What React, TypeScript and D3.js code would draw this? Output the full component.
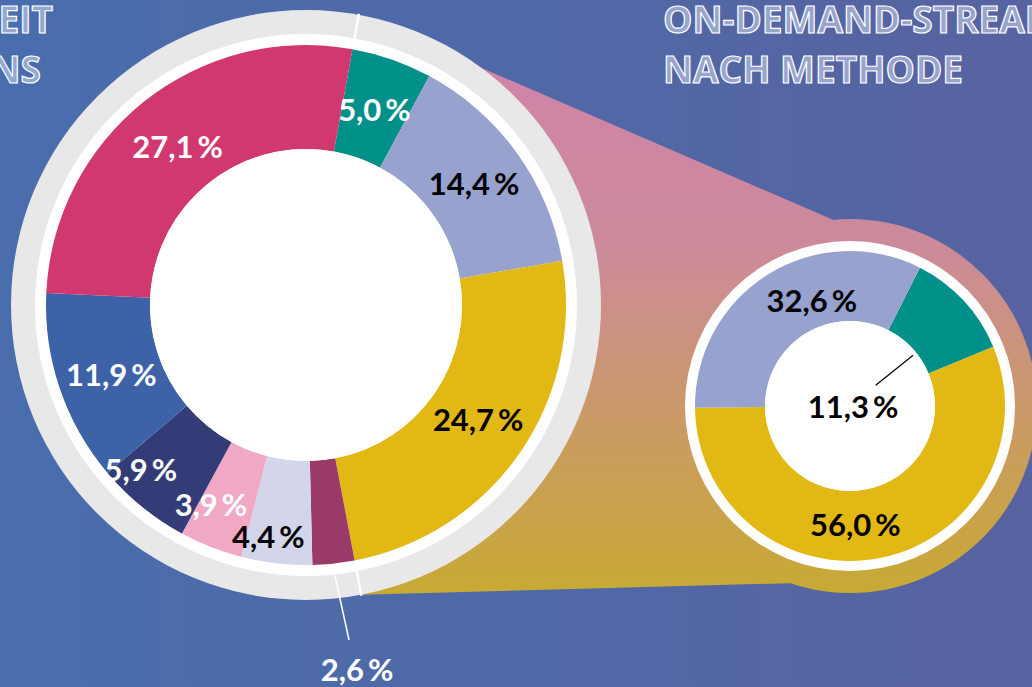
import React from 'react';
import * as d3 from 'd3';

const W = 1032;
const H = 687;

// Overall (big donut) shares, clockwise from the on-demand block
const bigValues = [5.0, 14.4, 24.7, 2.6, 4.4, 3.9, 5.9, 11.9, 27.1];
const bigColors = ['#00908a', '#97a2cf', '#e2b814', '#993a67', '#d3d5ea', '#f0a8c5', '#333c76', '#3d62a8', '#d1386f'];
const bigTextColors = ['#ffffff', '#000000', '#000000', '#ffffff', '#000000', '#ffffff', '#ffffff', '#ffffff', '#ffffff'];
// first N slices of the big donut that are broken down in the small donut
const onDemandCount = 3;

// On-demand streaming by method (small donut)
const smallValues = [11.3, 56.0, 32.6];
const smallColors = ['#00908a', '#e2b814', '#97a2cf'];
const smallTextColors = ['#000000', '#000000', '#000000'];

const titleLines = ['ON-DEMAND-STREAMING', 'NACH METHODE'];
const leftTitleLines = ['EIT', 'NS'];

const fmt = (v: number) => v.toFixed(1).replace('.', ',');
const deg = (d: number) => (d * Math.PI) / 180;

// layout
const big = { cx: 306, cy: 305, rGray: 295, rWhite: 271, rOuter: 260, rInner: 156, start: deg(10.3) };
const small = { cx: 850, cy: 406, rBg: 187, rWhite: 165, rOuter: 155, rInner: 85, start: deg(26.8) };

const polar = (cx: number, cy: number, r: number, a: number): [number, number] => [cx + r * Math.sin(a), cy - r * Math.cos(a)];

// label nudges (radius, angle in degrees) relative to the arc centroid
const bigLabelAdjust: Record<number, { r: number; da: number }> = {
  2: { r: 207, da: -1 },
  4: { r: 235, da: 2.7 },
  5: { r: 221, da: 4 },
  6: { r: 233, da: 6 },
  7: { r: 207, da: -1 },
  8: { r: 204, da: -0.5 },
};
const smallLabelAdjust: Record<number, { r: number; da: number }> = {
  1: { r: 119, da: 9 },
  2: { r: 112, da: 12 },
};

const LABEL_FONT = 'Lato, "Open Sans", sans-serif';

function Label({ x, y, text, color }: { x: number; y: number; text: string; color: string }) {
  return (
    <text x={x} y={y} textAnchor="middle" dy="0.36em" fill={color} fontFamily={LABEL_FONT} fontWeight={700} fontSize={31}>
      {text}
      <tspan dx={4}>%</tspan>
    </text>
  );
}

export default function App() {
  const bigPie = d3.pie<number>().sort(null).value((d) => d).startAngle(big.start).endAngle(big.start + 2 * Math.PI);
  const bigArcs = bigPie(bigValues);
  const bigArc = d3.arc<d3.PieArcDatum<number>>().innerRadius(big.rInner).outerRadius(big.rOuter);

  const smallPie = d3.pie<number>().sort(null).value((d) => d).startAngle(small.start).endAngle(small.start + 2 * Math.PI);
  const smallArcs = smallPie(smallValues);
  const smallArc = d3.arc<d3.PieArcDatum<number>>().innerRadius(small.rInner).outerRadius(small.rOuter);

  const odStart = bigArcs[0].startAngle;
  const odEnd = bigArcs[onDemandCount - 1].endAngle;

  const pBigTop = polar(big.cx, big.cy, big.rGray, odStart);
  const pBigBot = polar(big.cx, big.cy, big.rGray, odEnd);
  const pSmallTop = polar(small.cx, small.cy, small.rBg, deg(-5.2));
  const pSmallBot = polar(small.cx, small.cy, small.rBg, deg(198.7));
  const connector = [pBigTop, pSmallTop, [small.cx, small.cy], pSmallBot, pBigBot, [big.cx, big.cy]]
    .map((p) => p.join(','))
    .join(' ');

  const midR = 207;
  const bigLabelPos = bigArcs.map((a, i) => {
    const mid = (a.startAngle + a.endAngle) / 2;
    const adj = bigLabelAdjust[i];
    return adj ? polar(big.cx, big.cy, adj.r, mid + deg(adj.da)) : polar(big.cx, big.cy, midR, mid);
  });

  // small 2.6 slice label outside
  const smallSliceIdx = 3;
  const sMid = (bigArcs[smallSliceIdx].startAngle + bigArcs[smallSliceIdx].endAngle) / 2;
  const leaderStart = polar(big.cx, big.cy, big.rWhite + 1, sMid);
  const outsideLabel: [number, number] = [357, 670];

  const tealMid = (smallArcs[0].startAngle + smallArcs[0].endAngle) / 2 + deg(4);
  const sl1 = polar(small.cx, small.cy, small.rInner - 4, tealMid);
  const sl2 = polar(small.cx, small.cy, 33, tealMid);

  return (
    <svg width={W} height={H} viewBox={`0 0 ${W} ${H}`} style={{ position: 'fixed', left: 0, top: 0 }}>
      <defs>
        <linearGradient id="bg" x1="0" y1="0" x2={W} y2="0" gradientUnits="userSpaceOnUse">
          <stop offset="0" stopColor="#496dad" />
          <stop offset="1" stopColor="#5763a0" />
        </linearGradient>
        <linearGradient id="conn" x1="0" y1="60" x2="0" y2="595" gradientUnits="userSpaceOnUse">
          <stop offset="0" stopColor="#cf84a8" />
          <stop offset="0.35" stopColor="#cc8a9a" />
          <stop offset="1" stopColor="#c8aa33" />
        </linearGradient>
      </defs>
      <rect x={0} y={0} width={W} height={H} fill="url(#bg)" />

      {/* titles */}
      <g fontFamily='"Open Sans", sans-serif' fontWeight={700} fontSize={37} fill="rgba(214,222,242,0.55)" stroke="#ffffff" strokeWidth={1.2}>
        {titleLines.map((t, i) => (
          <text key={t} x={663} y={33 + i * 50}>{t}</text>
        ))}
        {leftTitleLines.map((t, i) => (
          <text key={t} x={[53, 41][i]} y={33 + i * 50} textAnchor="end">{t}</text>
        ))}
      </g>

      {/* connector */}
      <polygon points={connector} fill="url(#conn)" />
      <circle cx={small.cx} cy={small.cy} r={small.rBg} fill="url(#conn)" />

      {/* big donut */}
      <circle cx={big.cx} cy={big.cy} r={big.rGray} fill="#e8e8e8" />
      <circle cx={big.cx} cy={big.cy} r={big.rWhite} fill="#ffffff" />
      <g transform={`translate(${big.cx},${big.cy})`}>
        {bigArcs.map((a, i) => (
          <path key={i} d={bigArc(a) || ''} fill={bigColors[i]} />
        ))}
      </g>
      <circle cx={big.cx} cy={big.cy} r={big.rInner} fill="#ffffff" />
      {[odStart, odEnd].map((ang, i) => {
        const p1 = polar(big.cx, big.cy, big.rWhite - 6, ang);
        const p2 = polar(big.cx, big.cy, big.rGray + 1, ang);
        return <line key={i} x1={p1[0]} y1={p1[1]} x2={p2[0]} y2={p2[1]} stroke="#ffffff" strokeWidth={2.5} />;
      })}
      {bigArcs.map((a, i) =>
        i === smallSliceIdx ? null : (
          <Label key={i} x={bigLabelPos[i][0]} y={bigLabelPos[i][1]} text={fmt(bigValues[i])} color={bigTextColors[i]} />
        )
      )}
      <line x1={leaderStart[0]} y1={leaderStart[1]} x2={outsideLabel[0] - 8} y2={outsideLabel[1] - 30} stroke="#ffffff" strokeWidth={1.5} />
      <Label x={outsideLabel[0]} y={outsideLabel[1]} text={fmt(bigValues[smallSliceIdx])} color="#ffffff" />

      {/* small donut */}
      <circle cx={small.cx} cy={small.cy} r={small.rWhite} fill="#ffffff" />
      <g transform={`translate(${small.cx},${small.cy})`}>
        {smallArcs.map((a, i) => (
          <path key={i} d={smallArc(a) || ''} fill={smallColors[i]} />
        ))}
      </g>
      <circle cx={small.cx} cy={small.cy} r={small.rInner} fill="#ffffff" />
      <line x1={sl1[0]} y1={sl1[1]} x2={sl2[0]} y2={sl2[1]} stroke="#000000" strokeWidth={1.2} />
      {smallArcs.map((a, i) => {
        const mid = (a.startAngle + a.endAngle) / 2;
        const adj = smallLabelAdjust[i];
        const p: [number, number] = adj ? polar(small.cx, small.cy, adj.r, mid + deg(adj.da)) : [small.cx + 3, small.cy + 1];
        return <Label key={i} x={p[0]} y={p[1]} text={fmt(smallValues[i])} color={smallTextColors[i]} />;
      })}
    </svg>
  );
}
